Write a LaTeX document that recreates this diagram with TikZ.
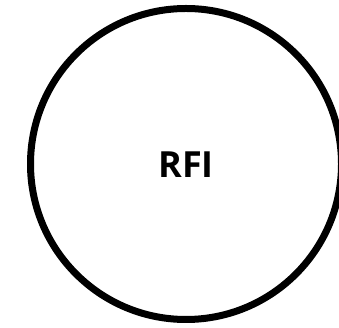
\documentclass[tikz,border=0pt]{standalone}
\usepackage{fontspec}
\setmainfont{Open Sans}
\begin{document}
\begin{tikzpicture}[x=1pt,y=1pt,
  ring/.style={circle,draw=black,line width=7pt,minimum size=311pt,inner sep=0pt},
  label/.style={font=\bfseries\fontsize{36}{40}\selectfont}]
\useasboundingbox (0,0) rectangle (339,328);
\clip (0,0) rectangle (339,328);
\node[ring] (c) at (186,164) {};
\node[label] (t) at (186,163) {RFI};
\end{tikzpicture}
\end{document}
